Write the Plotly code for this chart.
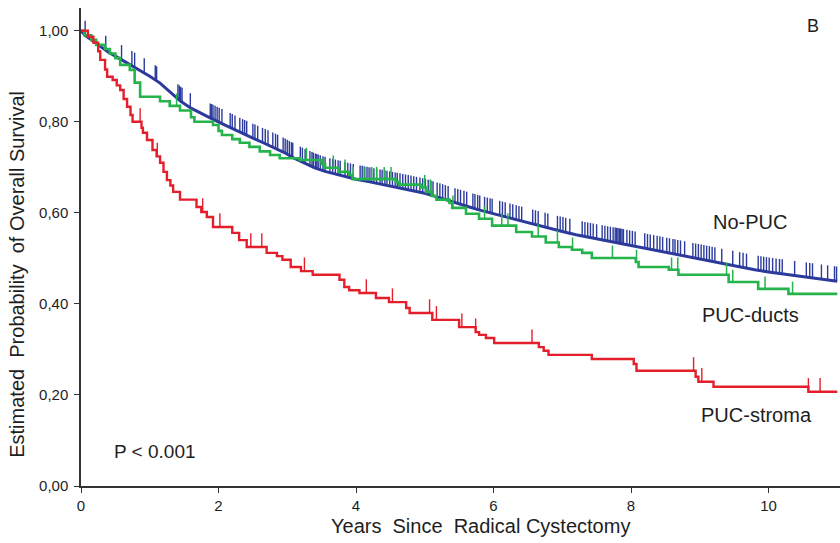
import numpy as np
import plotly.graph_objects as go

# ---- Kaplan-Meier estimates (years, survival probability) ----
no_puc_t = [0, 0.06, 0.15, 0.28, 0.4, 0.55, 0.7, 0.85, 1.0, 1.15, 1.3, 1.45, 1.6, 1.75, 1.9,
            2.05, 2.2, 2.35, 2.5, 2.65, 2.8, 2.95, 3.1, 3.25, 3.4, 3.55, 3.7, 3.85, 4.0, 4.2,
            4.4, 4.6, 4.8, 5.0, 5.2, 5.4, 5.6, 5.8, 6.0, 6.2, 6.4, 6.6, 6.8, 7.0, 7.2, 7.4,
            7.6, 7.8, 8.0, 8.2, 8.4, 8.6, 8.8, 9.0, 9.2, 9.4, 9.6, 9.8, 10.0, 10.2, 10.4,
            10.6, 10.8, 11.0]
no_puc_s = [1.0, 0.99, 0.98, 0.965, 0.953, 0.94, 0.927, 0.914, 0.90, 0.885, 0.866, 0.845, 0.83,
            0.818, 0.807, 0.796, 0.785, 0.774, 0.764, 0.754, 0.744, 0.733, 0.72, 0.709, 0.699,
            0.691, 0.685, 0.679, 0.674, 0.668, 0.662, 0.656, 0.65, 0.643, 0.634, 0.624, 0.615,
            0.606, 0.598, 0.59, 0.582, 0.574, 0.566, 0.559, 0.552, 0.546, 0.54, 0.535, 0.529,
            0.523, 0.517, 0.511, 0.505, 0.499, 0.493, 0.487, 0.481, 0.475, 0.47, 0.466, 0.462,
            0.458, 0.454, 0.45]
no_puc_censor = [0.06, 0.36, 0.59, 0.74, 0.78, 0.92, 1.08, 1.10, 1.41, 1.43, 1.45, 1.47, 1.59,
                 1.88, 1.90, 1.92, 1.95, 1.98, 2.01, 2.05, 2.17, 2.20, 2.24, 2.31, 2.35, 2.38,
                 2.41, 2.50, 2.53, 2.57, 2.64, 2.68, 2.72, 2.79, 2.83, 2.86, 2.94, 2.97, 3.00,
                 3.03, 3.06, 3.08, 3.19, 3.22, 3.26, 3.33, 3.36, 3.38, 3.41, 3.43, 3.45, 3.48,
                 3.52, 3.55, 3.62, 3.66, 3.70, 3.74, 3.77, 3.84, 3.88, 3.92, 3.96, 4.06, 4.09,
                 4.12, 4.16, 4.19, 4.22, 4.26, 4.30, 4.35, 4.38, 4.42, 4.45, 4.49, 4.53, 4.57,
                 4.60, 4.64, 4.68, 4.72, 4.76, 4.80, 4.84, 4.88, 4.93, 4.97, 5.01, 5.05, 5.09,
                 5.12, 5.18, 5.22, 5.26, 5.30, 5.34, 5.44, 5.48, 5.52, 5.57, 5.61, 5.70, 5.73,
                 5.77, 5.80, 5.87, 5.91, 5.95, 5.98, 6.09, 6.13, 6.17, 6.24, 6.28, 6.33, 6.37,
                 6.41, 6.57, 6.61, 6.65, 6.75, 6.79, 6.93, 6.97, 7.01, 7.05, 7.11, 7.29, 7.33,
                 7.37, 7.41, 7.45, 7.50, 7.58, 7.62, 7.66, 7.70, 7.74, 7.77, 7.79, 7.81, 7.83,
                 7.85, 7.87, 7.89, 7.94, 7.98, 8.02, 8.06, 8.20, 8.24, 8.28, 8.33, 8.38, 8.42,
                 8.46, 8.52, 8.56, 8.61, 8.64, 8.68, 8.72, 8.78, 8.90, 8.94, 8.98, 9.02, 9.06,
                 9.10, 9.14, 9.18, 9.22, 9.32, 9.48, 9.58, 9.63, 9.68, 9.85, 9.89, 9.93, 9.97,
                 10.01, 10.06, 10.11, 10.16, 10.20, 10.38, 10.55, 10.60, 10.64, 10.77, 10.86,
                 10.96, 10.99]

ducts_t = [0, 0.05, 0.15, 0.22, 0.35, 0.42, 0.5, 0.57, 0.71, 0.78, 0.86, 1.15, 1.29, 1.44, 1.6,
           1.65, 1.92, 2.0, 2.05, 2.2, 2.31, 2.45, 2.6, 2.75, 2.89, 3.18, 3.5, 3.55, 3.75, 3.9,
           3.95, 4.58, 4.63, 4.95, 5.02, 5.1, 5.17, 5.36, 5.4, 5.6, 5.79, 5.98, 6.33, 6.56, 6.76,
           6.95, 7.14, 7.29, 7.43, 8.07, 8.11, 8.55, 8.69, 9.42, 9.85, 10.29, 11.0]
ducts_s = [1.0, 0.99, 0.98, 0.969, 0.96, 0.95, 0.94, 0.925, 0.914, 0.886, 0.855, 0.845, 0.835,
           0.825, 0.81, 0.80, 0.793, 0.78, 0.771, 0.762, 0.754, 0.745, 0.735, 0.727, 0.72,
           0.716, 0.707, 0.699, 0.69, 0.683, 0.674, 0.668, 0.662, 0.656, 0.646, 0.637, 0.629,
           0.622, 0.611, 0.598, 0.587, 0.572, 0.558, 0.548, 0.535, 0.525, 0.519, 0.512, 0.501,
           0.492, 0.481, 0.475, 0.464, 0.448, 0.433, 0.422, 0.422]
ducts_censor = [1.39, 3.28, 3.67, 3.84, 3.96, 4.13, 4.23, 4.30, 4.41, 4.51, 5.0, 5.08, 5.41,
                5.87, 6.12, 6.21, 6.65, 6.93, 7.15, 7.73, 8.08, 8.59, 8.68, 9.39, 9.48, 9.95,
                10.35]

stroma_t = [0, 0.1, 0.18, 0.25, 0.28, 0.35, 0.38, 0.46, 0.52, 0.57, 0.62, 0.67, 0.72, 0.75,
            0.88, 0.9, 0.96, 1.04, 1.1, 1.15, 1.2, 1.25, 1.3, 1.34, 1.44, 1.68, 1.75, 1.83,
            1.92, 2.2, 2.3, 2.41, 2.7, 2.85, 2.93, 3.05, 3.2, 3.37, 3.76, 3.83, 3.9, 4.05, 4.29,
            4.48, 4.73, 4.78, 5.11, 5.5, 5.74, 5.79, 5.89, 6.01, 6.66, 6.73, 6.8, 7.43, 8.04,
            8.08, 8.94, 8.98, 9.2, 10.58, 11.0]
stroma_s = [1.0, 0.987, 0.974, 0.955, 0.936, 0.915, 0.899, 0.892, 0.88, 0.87, 0.85, 0.833,
            0.815, 0.80, 0.787, 0.776, 0.76, 0.738, 0.724, 0.71, 0.69, 0.672, 0.66, 0.646,
            0.629, 0.613, 0.602, 0.591, 0.569, 0.556, 0.54, 0.525, 0.512, 0.505, 0.497, 0.481,
            0.472, 0.464, 0.453, 0.437, 0.43, 0.424, 0.413, 0.404, 0.391, 0.38, 0.365, 0.349,
            0.338, 0.332, 0.325, 0.314, 0.305, 0.297, 0.288, 0.279, 0.268, 0.253, 0.24, 0.229,
            0.218, 0.207, 0.207]
stroma_censor = [0.86, 1.11, 1.77, 2.02, 2.47, 2.63, 3.25, 4.15, 4.53, 5.07, 5.17, 5.54, 5.74,
                 6.56, 8.91, 9.03, 10.58, 10.75]

x_ticks = [0, 2, 4, 6, 8, 10]
y_ticks = [0.0, 0.2, 0.4, 0.6, 0.8, 1.0]
y_tick_text = ["0,00", "0,20", "0,40", "0,60", "0,80", "1,00"]

BLUE = "#2b3a9c"
GREEN = "#25b34b"
RED = "#e41e2b"
INK = "#1e1e1e"
FONT = "Liberation Sans, Arial, sans-serif"


def step_value(t_list, s_list, t):
    """Survival of a right-continuous step curve at time t."""
    idx = np.searchsorted(np.asarray(t_list), t, side="right") - 1
    return s_list[max(idx, 0)]


def censor_segments(times, base_fn, height):
    xs, ys = [], []
    for t in times:
        b = base_fn(t)
        xs += [t, t, None]
        ys += [b, b + height, None]
    return xs, ys


fig = go.Figure()

# No-PUC: many small steps, drawn as a continuous line
fig.add_trace(go.Scatter(x=no_puc_t, y=no_puc_s, mode="lines",
                         line=dict(color=BLUE, width=3), hoverinfo="skip"))
cx, cy = censor_segments(no_puc_censor, lambda t: float(np.interp(t, no_puc_t, no_puc_s)), 0.032)
fig.add_trace(go.Scatter(x=cx, y=cy, mode="lines", line=dict(color=BLUE, width=1.4),
                         hoverinfo="skip"))

# PUC-ducts
fig.add_trace(go.Scatter(x=ducts_t, y=ducts_s, mode="lines", line_shape="hv",
                         line=dict(color=GREEN, width=2.6), hoverinfo="skip"))
cx, cy = censor_segments(ducts_censor, lambda t: step_value(ducts_t, ducts_s, t), 0.027)
fig.add_trace(go.Scatter(x=cx, y=cy, mode="lines", line=dict(color=GREEN, width=1.5),
                         hoverinfo="skip"))

# PUC-stroma
fig.add_trace(go.Scatter(x=stroma_t, y=stroma_s, mode="lines", line_shape="hv",
                         line=dict(color=RED, width=2.4), hoverinfo="skip"))
cx, cy = censor_segments(stroma_censor, lambda t: step_value(stroma_t, stroma_s, t), 0.03)
fig.add_trace(go.Scatter(x=cx, y=cy, mode="lines", line=dict(color=RED, width=1.4),
                         hoverinfo="skip"))

axis_common = dict(showline=True, linecolor="#333333", linewidth=1.5, ticks="outside",
                   ticklen=5, tickwidth=1.3, tickcolor="#333333", showgrid=False,
                   zeroline=False, tickfont=dict(family=FONT, size=15, color=INK))

fig.update_layout(
    width=840, height=543,
    margin=dict(l=81, r=0, t=8, b=57),
    paper_bgcolor="white", plot_bgcolor="white",
    showlegend=False,
    font=dict(family=FONT, color=INK),
    xaxis=dict(range=[0, 11.04], tickvals=x_ticks, **axis_common),
    yaxis=dict(range=[0, 1.05], tickvals=y_ticks, ticktext=y_tick_text,
               ticklabelstandoff=3, **axis_common),
)

labels = [
    dict(x=9.73, y=0.581, text="No-PUC", size=20, xanchor="center"),
    dict(x=9.74, y=0.376, text="PUC-ducts", size=20, xanchor="center"),
    dict(x=9.83, y=0.157, text="PUC-stroma", size=20, xanchor="center"),
    dict(x=0.455, y=0.076, text="P < 0.001", size=19, xanchor="left"),
    dict(x=10.64, y=1.011, text="B", size=18, xanchor="center"),
]
for a in labels:
    fig.add_annotation(x=a["x"], y=a["y"], xref="x", yref="y", text=a["text"],
                       showarrow=False, xanchor=a["xanchor"], yanchor="middle",
                       font=dict(family=FONT, size=a["size"], color=INK))

# axis titles
fig.add_annotation(x=5.81, y=-0.0847, xref="x", yref="paper",
                   text="Years\u00a0 Since\u00a0 Radical Cystectomy",
                   showarrow=False, xanchor="center", yanchor="middle",
                   font=dict(family=FONT, size=20, color=INK))
fig.add_annotation(x=-0.0843, y=0.464, xref="paper", yref="y",
                   text="Estimated\u00a0 Probability\u00a0 of Overall Survival",
                   textangle=-90, showarrow=False, xanchor="center", yanchor="middle",
                   font=dict(family=FONT, size=20, color=INK))

fig.write_html("out.html")
